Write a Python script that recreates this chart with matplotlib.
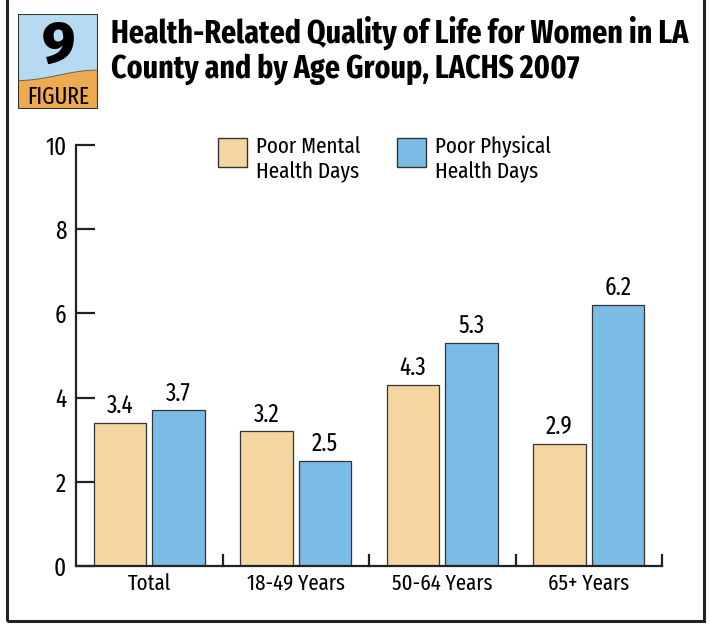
import matplotlib
matplotlib.use("Agg")
import matplotlib.pyplot as plt
import numpy as np
from matplotlib.patches import Rectangle, Polygon

categories = ["Total", "18-49 Years", "50-64 Years", "65+ Years"]
mental = [3.4, 3.2, 4.3, 2.9]
physical = [3.7, 2.5, 5.3, 6.2]
series_names = ["Poor Mental\nHealth Days", "Poor Physical\nHealth Days"]
yticks = [0, 2, 4, 6, 8, 10]
title_lines = ["Health-Related Quality of Life for Women in LA",
               "County and by Age Group, LACHS 2007"]

FONT = ["Fira Sans Extra Condensed", "PT Sans Narrow", "DejaVu Sans"]
plt.rcParams['font.family'] = FONT

W, H = 710, 624
fig = plt.figure(figsize=(W / 100, H / 100), dpi=100)

def fx(px):
    return px / W

def fy(py):
    return 1 - py / H

# outer border
fig.patches.append(Rectangle((fx(7), fy(621)), fx(697), fy(-10) - fy(621), transform=fig.transFigure,
                             fill=False, edgecolor="#222222", linewidth=2.2))

# icon
iax = fig.add_axes([fx(18), fy(109), fx(80), (109 - 14) / H])
iax.set_xlim(0, 1)
iax.set_ylim(0, 1)
iax.axis("off")
iax.add_patch(Rectangle((0, 0), 1, 1, facecolor="#b8d9f2", edgecolor="none"))
xs = np.linspace(0, 1, 60)
wave = 0.30 + 0.055 * (1 - np.cos(np.pi * xs))
poly = np.vstack([np.column_stack([xs, wave]), [[1, 0], [0, 0]]])
iax.add_patch(Polygon(poly, closed=True, facecolor="#eeaa4e", edgecolor="none"))
iax.plot(xs, wave, color="#555555", lw=0.6)
iax.add_patch(Rectangle((0, 0), 1, 1, fill=False, edgecolor="#333333", lw=1.5))
iax.text(0.5, 0.665, "9", ha="center", va="center", fontsize=42, fontweight="heavy",
         family=["Fira Sans", "DejaVu Sans"], color="black")
iax.text(0.5, 0.125, "FIGURE", ha="center", va="center", fontsize=17, family=FONT, color="black")

# title
for i, line in enumerate(title_lines):
    fig.text(fx(111), fy(43 + 35 * i), line, ha="left", va="baseline", fontsize=23.3,
             fontweight="bold", color="black")

# main axes
ax = fig.add_axes([fx(76), fy(566), fx(662 - 76), (566 - 145) / H])
x = np.arange(len(categories))
bw = 0.36
gap = 0.04
off = (bw + gap) / 2
b1 = ax.bar(x - off, mental, width=bw, color="#f5d5a0", edgecolor="#333333", linewidth=0.9,
            label=series_names[0])
b2 = ax.bar(x + off, physical, width=bw, color="#7bbce6", edgecolor="#333333", linewidth=0.9,
            label=series_names[1])
for bars, vals in ((b1, mental), (b2, physical)):
    for r, v in zip(bars, vals):
        ax.annotate(f"{v:.1f}", (r.get_x() + r.get_width() / 2, v), xytext=(0, 7),
                    textcoords="offset points", ha="center", va="baseline",
                    fontsize=18, color="black")

ax.set_xlim(-0.5, len(categories) - 0.5)
ax.set_ylim(0, 10)
ax.spines["top"].set_visible(False)
ax.spines["right"].set_visible(False)
for s in ("left", "bottom"):
    ax.spines[s].set_linewidth(1.6)
    ax.spines[s].set_color("#222222")
ax.set_yticks(yticks)
ax.set_yticklabels([str(t) for t in yticks], fontsize=18)
ax.tick_params(axis="y", direction="in", length=14, width=1.6, pad=7, color="#222222")
ax.set_xticks(x)
ax.set_xticklabels(categories, fontsize=16.3)
ax.tick_params(axis="x", length=0, pad=5)
# group separators
for b in np.arange(0.5, len(categories), 1.0):
    ax.plot([b, b], [0, 0.25], color="#222222", lw=1.6, clip_on=False)

# legend (manual)
leg_items = [(218, "#f5d5a0", series_names[0]), (397, "#7bbce6", series_names[1])]
for px, col, lab in leg_items:
    fig.patches.append(Rectangle((fx(px), fy(167)), fx(29), (167 - 138) / H, transform=fig.transFigure,
                                 facecolor=col, edgecolor="#333333", linewidth=1.0))
    for j, part in enumerate(lab.split("\n")):
        fig.text(fx(px + 38), fy(153 + 25 * j), part, ha="left", va="baseline", fontsize=16.5)

fig.savefig("out.png", dpi=100)
